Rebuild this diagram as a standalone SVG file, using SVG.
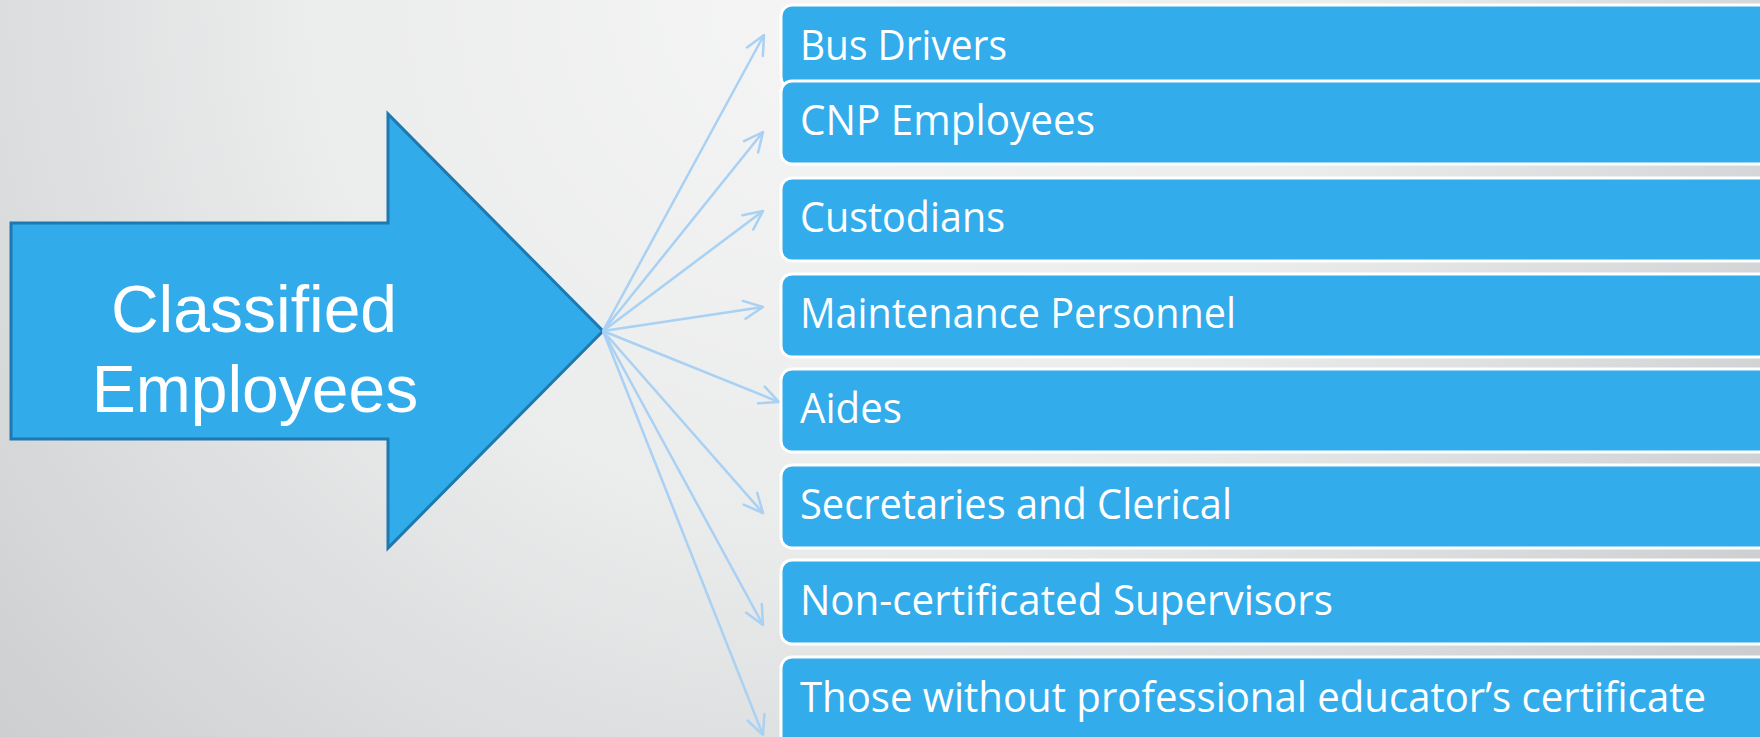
<svg xmlns="http://www.w3.org/2000/svg" width="1760" height="737" viewBox="0 0 1760 737">
  <defs>
    <radialGradient id="bg" cx="820" cy="0" r="1150" gradientUnits="userSpaceOnUse">
      <stop offset="0" stop-color="#F5F5F5"/>
      <stop offset="0.45" stop-color="#EBECEC"/>
      <stop offset="1" stop-color="#CACCCE"/>
    </radialGradient>
    <marker id="chev" markerUnits="userSpaceOnUse" markerWidth="30" markerHeight="30" viewBox="-24 -15 30 30" refX="0" refY="0" orient="auto">
      <path d="M -19,-9 L 0,0 L -19,9" fill="none" stroke="#A9D1F3" stroke-width="2.5" stroke-linecap="round" stroke-linejoin="round"/>
    </marker>
    <style>
      .box { fill: #32ACEB; stroke: #FFFFFF; stroke-width: 3; }
      .lbl { font-family: "Open Sans", "Noto Sans", "DejaVu Sans", sans-serif; font-size: 42px; fill: #FFFFFF; }
      .link { fill: none; stroke: #A9D1F3; stroke-width: 2.5; marker-end: url(#chev); }
      .title { font-family: "Liberation Sans", Arial, sans-serif; font-size: 66px; fill: #FFFFFF; text-anchor: middle; }
    </style>
  </defs>

  <!-- backdrop -->
  <rect x="0" y="0" width="1760" height="737" fill="url(#bg)"/>

  <!-- source block arrow -->
  <g id="classified">
    <polygon points="11,223 388,223 388,114 603,331 388,548 388,439 11,439" fill="#31ABE9" stroke="#1D79AF" stroke-width="3" stroke-linejoin="miter"/>
    <text class="title" x="254" y="332">Classified</text>
    <text class="title" x="255" y="412">Employees</text>
  </g>

  <!-- fan of links from the arrow tip -->
  <g id="connectors">
    <line class="link" x1="603" y1="331" x2="764" y2="35"/>
    <line class="link" x1="603" y1="331" x2="763" y2="132"/>
    <line class="link" x1="603" y1="331" x2="763" y2="211"/>
    <line class="link" x1="603" y1="331" x2="763" y2="307"/>
    <line class="link" x1="603" y1="331" x2="779" y2="402"/>
    <line class="link" x1="603" y1="331" x2="763" y2="513"/>
    <line class="link" x1="603" y1="331" x2="763" y2="625"/>
    <line class="link" x1="603" y1="331" x2="763" y2="735"/>
  </g>

  <!-- category boxes -->
  <g id="bus-drivers">
    <rect class="box" x="781" y="5" width="1000" height="83" rx="11"/>
    <text class="lbl" x="800" y="60" textLength="207" lengthAdjust="spacingAndGlyphs">Bus Drivers</text>
  </g>
  <g id="cnp-employees">
    <rect class="box" x="781" y="81" width="1000" height="83" rx="11"/>
    <text class="lbl" x="800" y="135" textLength="295" lengthAdjust="spacingAndGlyphs">CNP Employees</text>
  </g>
  <g id="custodians">
    <rect class="box" x="781" y="178" width="1000" height="83" rx="11"/>
    <text class="lbl" x="800" y="232" textLength="205" lengthAdjust="spacingAndGlyphs">Custodians</text>
  </g>
  <g id="maintenance">
    <rect class="box" x="781" y="274" width="1000" height="83" rx="11"/>
    <text class="lbl" x="800" y="328" textLength="436" lengthAdjust="spacingAndGlyphs">Maintenance Personnel</text>
  </g>
  <g id="aides">
    <rect class="box" x="781" y="369" width="1000" height="83" rx="11"/>
    <text class="lbl" x="800" y="423" textLength="102" lengthAdjust="spacingAndGlyphs">Aides</text>
  </g>
  <g id="secretaries">
    <rect class="box" x="781" y="465" width="1000" height="83" rx="11"/>
    <text class="lbl" x="800" y="519" textLength="432" lengthAdjust="spacingAndGlyphs">Secretaries and Clerical</text>
  </g>
  <g id="supervisors">
    <rect class="box" x="781" y="560" width="1000" height="84" rx="11"/>
    <text class="lbl" x="800" y="615" textLength="533" lengthAdjust="spacingAndGlyphs">Non-certificated Supervisors</text>
  </g>
  <g id="non-certified">
    <rect class="box" x="781" y="657" width="1000" height="90" rx="11"/>
    <text class="lbl" x="800" y="712" textLength="906" lengthAdjust="spacingAndGlyphs">Those without professional educator’s certificate</text>
  </g>
</svg>
